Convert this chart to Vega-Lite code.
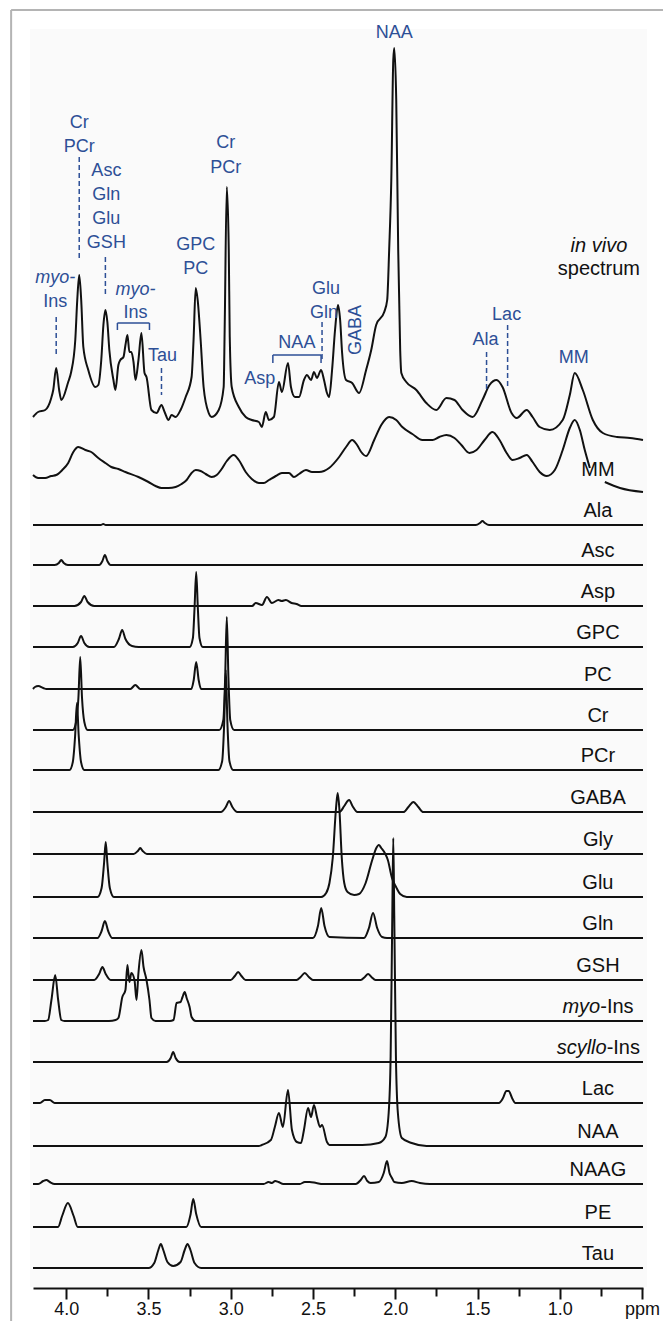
{
"$schema":"https://vega.github.io/schema/vega-lite/v6.json",
"width":610,"height":1288,
"autosize":{"type":"none"},
"padding":{"left":33,"right":20,"top":0,"bottom":33},
"background":"white",
"config":{"view":{"stroke":null},"axis":{"grid":false,"domainColor":"#111","domainWidth":2,"tickColor":"#111","tickWidth":2,"labelFont":"Liberation Sans","labelFontSize":18,"labelColor":"#111","zindex":1}},
"datasets":{
"spec":[
{"s":"vivo","p":4.202,"y":871},{"s":"vivo","p":4.171,"y":876},{"s":"vivo","p":4.128,"y":878},{"s":"vivo","p":4.091,"y":890},{"s":"vivo","p":4.079,"y":898},{"s":"vivo","p":4.061,"y":920},{"s":"vivo","p":4.043,"y":898},{"s":"vivo","p":4.030,"y":888},{"s":"vivo","p":3.988,"y":906},{"s":"vivo","p":3.970,"y":916},{"s":"vivo","p":3.945,"y":948},{"s":"vivo","p":3.933,"y":988},{"s":"vivo","p":3.921,"y":1013},{"s":"vivo","p":3.909,"y":988},{"s":"vivo","p":3.896,"y":941},{"s":"vivo","p":3.866,"y":918},{"s":"vivo","p":3.823,"y":901},{"s":"vivo","p":3.805,"y":903},{"s":"vivo","p":3.787,"y":928},{"s":"vivo","p":3.774,"y":963},{"s":"vivo","p":3.762,"y":978},{"s":"vivo","p":3.750,"y":966},{"s":"vivo","p":3.738,"y":938},{"s":"vivo","p":3.713,"y":908},{"s":"vivo","p":3.701,"y":898},{"s":"vivo","p":3.683,"y":923},{"s":"vivo","p":3.671,"y":928},{"s":"vivo","p":3.652,"y":931},{"s":"vivo","p":3.640,"y":943},{"s":"vivo","p":3.628,"y":953},{"s":"vivo","p":3.616,"y":936},{"s":"vivo","p":3.604,"y":936},{"s":"vivo","p":3.591,"y":926},{"s":"vivo","p":3.579,"y":908},{"s":"vivo","p":3.561,"y":928},{"s":"vivo","p":3.543,"y":955},{"s":"vivo","p":3.524,"y":915},{"s":"vivo","p":3.512,"y":911},{"s":"vivo","p":3.482,"y":878},{"s":"vivo","p":3.451,"y":875},{"s":"vivo","p":3.421,"y":883},{"s":"vivo","p":3.402,"y":876},{"s":"vivo","p":3.378,"y":868},{"s":"vivo","p":3.360,"y":873},{"s":"vivo","p":3.335,"y":871},{"s":"vivo","p":3.305,"y":878},{"s":"vivo","p":3.274,"y":891},{"s":"vivo","p":3.238,"y":911},{"s":"vivo","p":3.226,"y":948},{"s":"vivo","p":3.213,"y":1000},{"s":"vivo","p":3.201,"y":988},{"s":"vivo","p":3.183,"y":948},{"s":"vivo","p":3.165,"y":901},{"s":"vivo","p":3.134,"y":875},{"s":"vivo","p":3.116,"y":871},{"s":"vivo","p":3.073,"y":878},{"s":"vivo","p":3.043,"y":901},{"s":"vivo","p":3.037,"y":958},{"s":"vivo","p":3.024,"y":1101},{"s":"vivo","p":3.012,"y":1038},{"s":"vivo","p":3.006,"y":951},{"s":"vivo","p":2.994,"y":901},{"s":"vivo","p":2.951,"y":881},{"s":"vivo","p":2.909,"y":871},{"s":"vivo","p":2.872,"y":868},{"s":"vivo","p":2.829,"y":866},{"s":"vivo","p":2.811,"y":861},{"s":"vivo","p":2.787,"y":876},{"s":"vivo","p":2.768,"y":868},{"s":"vivo","p":2.738,"y":871},{"s":"vivo","p":2.707,"y":906},{"s":"vivo","p":2.689,"y":896},{"s":"vivo","p":2.652,"y":925},{"s":"vivo","p":2.634,"y":901},{"s":"vivo","p":2.610,"y":891},{"s":"vivo","p":2.585,"y":891},{"s":"vivo","p":2.555,"y":908},{"s":"vivo","p":2.537,"y":913},{"s":"vivo","p":2.512,"y":908},{"s":"vivo","p":2.494,"y":916},{"s":"vivo","p":2.476,"y":910},{"s":"vivo","p":2.451,"y":918},{"s":"vivo","p":2.433,"y":908},{"s":"vivo","p":2.415,"y":895},{"s":"vivo","p":2.402,"y":891},{"s":"vivo","p":2.384,"y":918},{"s":"vivo","p":2.366,"y":958},{"s":"vivo","p":2.348,"y":983},{"s":"vivo","p":2.335,"y":968},{"s":"vivo","p":2.323,"y":935},{"s":"vivo","p":2.299,"y":908},{"s":"vivo","p":2.262,"y":905},{"s":"vivo","p":2.220,"y":895},{"s":"vivo","p":2.177,"y":918},{"s":"vivo","p":2.146,"y":938},{"s":"vivo","p":2.116,"y":963},{"s":"vivo","p":2.067,"y":976},{"s":"vivo","p":2.049,"y":988},{"s":"vivo","p":2.037,"y":1038},{"s":"vivo","p":2.024,"y":1108},{"s":"vivo","p":2.012,"y":1228},{"s":"vivo","p":2.006,"y":1240},{"s":"vivo","p":1.994,"y":1188},{"s":"vivo","p":1.982,"y":1038},{"s":"vivo","p":1.970,"y":938},{"s":"vivo","p":1.963,"y":915},{"s":"vivo","p":1.933,"y":906},{"s":"vivo","p":1.872,"y":898},{"s":"vivo","p":1.811,"y":885},{"s":"vivo","p":1.750,"y":878},{"s":"vivo","p":1.689,"y":890},{"s":"vivo","p":1.640,"y":888},{"s":"vivo","p":1.591,"y":878},{"s":"vivo","p":1.530,"y":871},{"s":"vivo","p":1.470,"y":888},{"s":"vivo","p":1.427,"y":903},{"s":"vivo","p":1.384,"y":908},{"s":"vivo","p":1.348,"y":901},{"s":"vivo","p":1.293,"y":875},{"s":"vivo","p":1.262,"y":870},{"s":"vivo","p":1.201,"y":878},{"s":"vivo","p":1.165,"y":871},{"s":"vivo","p":1.122,"y":861},{"s":"vivo","p":1.061,"y":858},{"s":"vivo","p":0.982,"y":868},{"s":"vivo","p":0.939,"y":893},{"s":"vivo","p":0.909,"y":915},{"s":"vivo","p":0.860,"y":898},{"s":"vivo","p":0.799,"y":868},{"s":"vivo","p":0.738,"y":855},{"s":"vivo","p":0.652,"y":851},{"s":"vivo","p":0.573,"y":850},{"s":"vivo","p":0.494,"y":848},
{"s":"MM","p":4.202,"y":813},{"s":"MM","p":4.171,"y":810},{"s":"MM","p":4.128,"y":810},{"s":"MM","p":4.091,"y":812},{"s":"MM","p":4.061,"y":813},{"s":"MM","p":4.024,"y":818},{"s":"MM","p":3.988,"y":825},{"s":"MM","p":3.957,"y":836},{"s":"MM","p":3.927,"y":841},{"s":"MM","p":3.884,"y":838},{"s":"MM","p":3.848,"y":836},{"s":"MM","p":3.805,"y":830},{"s":"MM","p":3.762,"y":825},{"s":"MM","p":3.726,"y":821},{"s":"MM","p":3.683,"y":819},{"s":"MM","p":3.640,"y":816},{"s":"MM","p":3.561,"y":811},{"s":"MM","p":3.500,"y":806},{"s":"MM","p":3.457,"y":802},{"s":"MM","p":3.421,"y":800},{"s":"MM","p":3.378,"y":800},{"s":"MM","p":3.335,"y":801},{"s":"MM","p":3.299,"y":804},{"s":"MM","p":3.268,"y":808},{"s":"MM","p":3.238,"y":815},{"s":"MM","p":3.213,"y":818},{"s":"MM","p":3.183,"y":817},{"s":"MM","p":3.152,"y":814},{"s":"MM","p":3.116,"y":811},{"s":"MM","p":3.085,"y":813},{"s":"MM","p":3.055,"y":819},{"s":"MM","p":3.024,"y":827},{"s":"MM","p":2.982,"y":833},{"s":"MM","p":2.951,"y":828},{"s":"MM","p":2.909,"y":816},{"s":"MM","p":2.872,"y":809},{"s":"MM","p":2.829,"y":805},{"s":"MM","p":2.799,"y":805},{"s":"MM","p":2.768,"y":808},{"s":"MM","p":2.726,"y":812},{"s":"MM","p":2.689,"y":815},{"s":"MM","p":2.646,"y":815},{"s":"MM","p":2.616,"y":811},{"s":"MM","p":2.585,"y":814},{"s":"MM","p":2.543,"y":818},{"s":"MM","p":2.506,"y":816},{"s":"MM","p":2.463,"y":816},{"s":"MM","p":2.433,"y":817},{"s":"MM","p":2.402,"y":820},{"s":"MM","p":2.341,"y":831},{"s":"MM","p":2.299,"y":841},{"s":"MM","p":2.262,"y":848},{"s":"MM","p":2.232,"y":843},{"s":"MM","p":2.207,"y":836},{"s":"MM","p":2.177,"y":832},{"s":"MM","p":2.128,"y":848},{"s":"MM","p":2.085,"y":863},{"s":"MM","p":2.037,"y":871},{"s":"MM","p":1.994,"y":868},{"s":"MM","p":1.957,"y":861},{"s":"MM","p":1.896,"y":854},{"s":"MM","p":1.835,"y":848},{"s":"MM","p":1.774,"y":848},{"s":"MM","p":1.732,"y":851},{"s":"MM","p":1.689,"y":853},{"s":"MM","p":1.640,"y":850},{"s":"MM","p":1.598,"y":843},{"s":"MM","p":1.549,"y":835},{"s":"MM","p":1.506,"y":838},{"s":"MM","p":1.457,"y":848},{"s":"MM","p":1.409,"y":856},{"s":"MM","p":1.366,"y":848},{"s":"MM","p":1.323,"y":835},{"s":"MM","p":1.287,"y":828},{"s":"MM","p":1.244,"y":830},{"s":"MM","p":1.201,"y":833},{"s":"MM","p":1.165,"y":826},{"s":"MM","p":1.122,"y":816},{"s":"MM","p":1.079,"y":812},{"s":"MM","p":1.030,"y":818},{"s":"MM","p":0.982,"y":838},{"s":"MM","p":0.939,"y":860},{"s":"MM","p":0.909,"y":868},{"s":"MM","p":0.878,"y":858},{"s":"MM","p":0.848,"y":838},{"s":"MM","p":0.817,"y":820},{"s":"MM","p":0.790,"y":null},{"s":"MM","p":0.726,"y":806},{"s":"MM","p":0.634,"y":800},{"s":"MM","p":0.494,"y":796},
{"s":"Ala","p":4.202,"y":763},{"s":"Ala","p":3.79,"y":763},{"s":"Ala","p":3.775,"y":764},{"s":"Ala","p":3.76,"y":763},{"s":"Ala","p":1.51,"y":763},{"s":"Ala","p":1.485,"y":765},{"s":"Ala","p":1.47,"y":767},{"s":"Ala","p":1.455,"y":765},{"s":"Ala","p":1.43,"y":763},{"s":"Ala","p":0.494,"y":763},
{"s":"Asc","p":4.202,"y":723},{"s":"Asc","p":4.07,"y":723},{"s":"Asc","p":4.045,"y":725},{"s":"Asc","p":4.03,"y":728},{"s":"Asc","p":4.015,"y":725},{"s":"Asc","p":3.99,"y":723},{"s":"Asc","p":3.80,"y":723},{"s":"Asc","p":3.78,"y":727},{"s":"Asc","p":3.765,"y":733},{"s":"Asc","p":3.75,"y":727},{"s":"Asc","p":3.73,"y":723},{"s":"Asc","p":0.494,"y":723},
{"s":"Asp","p":4.202,"y":682},{"s":"Asp","p":3.95,"y":682},{"s":"Asp","p":3.91,"y":686},{"s":"Asp","p":3.89,"y":692},{"s":"Asp","p":3.87,"y":686},{"s":"Asp","p":3.83,"y":682},{"s":"Asp","p":2.87,"y":682},{"s":"Asp","p":2.848,"y":685},{"s":"Asp","p":2.81,"y":683},{"s":"Asp","p":2.78,"y":691},{"s":"Asp","p":2.75,"y":685},{"s":"Asp","p":2.71,"y":688},{"s":"Asp","p":2.69,"y":687},{"s":"Asp","p":2.665,"y":688},{"s":"Asp","p":2.63,"y":685},{"s":"Asp","p":2.60,"y":684},{"s":"Asp","p":2.57,"y":682},{"s":"Asp","p":0.494,"y":682},
{"s":"GPC","p":4.202,"y":641},{"s":"GPC","p":3.96,"y":641},{"s":"GPC","p":3.93,"y":645},{"s":"GPC","p":3.91,"y":652},{"s":"GPC","p":3.89,"y":645},{"s":"GPC","p":3.86,"y":641},{"s":"GPC","p":3.71,"y":641},{"s":"GPC","p":3.68,"y":649},{"s":"GPC","p":3.66,"y":658},{"s":"GPC","p":3.64,"y":649},{"s":"GPC","p":3.60,"y":642},{"s":"GPC","p":3.56,"y":641},{"s":"GPC","p":3.25,"y":641},{"s":"GPC","p":3.23,"y":650},{"s":"GPC","p":3.22,"y":680},{"s":"GPC","p":3.21,"y":716},{"s":"GPC","p":3.20,"y":680},{"s":"GPC","p":3.19,"y":650},{"s":"GPC","p":3.17,"y":641},{"s":"GPC","p":0.494,"y":641},
{"s":"PC","p":4.202,"y":599},{"s":"PC","p":4.19,"y":601},{"s":"PC","p":4.17,"y":602},{"s":"PC","p":4.14,"y":600},{"s":"PC","p":4.12,"y":599},{"s":"PC","p":3.61,"y":599},{"s":"PC","p":3.58,"y":603},{"s":"PC","p":3.55,"y":599},{"s":"PC","p":3.24,"y":599},{"s":"PC","p":3.225,"y":608},{"s":"PC","p":3.21,"y":626},{"s":"PC","p":3.195,"y":608},{"s":"PC","p":3.18,"y":599},{"s":"PC","p":0.494,"y":599},
{"s":"Cr","p":4.202,"y":558},{"s":"Cr","p":3.96,"y":558},{"s":"Cr","p":3.94,"y":566},{"s":"Cr","p":3.926,"y":590},{"s":"Cr","p":3.915,"y":631},{"s":"Cr","p":3.904,"y":590},{"s":"Cr","p":3.89,"y":566},{"s":"Cr","p":3.87,"y":558},{"s":"Cr","p":3.07,"y":558},{"s":"Cr","p":3.045,"y":568},{"s":"Cr","p":3.034,"y":610},{"s":"Cr","p":3.024,"y":671},{"s":"Cr","p":3.014,"y":610},{"s":"Cr","p":3.003,"y":568},{"s":"Cr","p":2.98,"y":558},{"s":"Cr","p":0.494,"y":558},
{"s":"PCr","p":4.202,"y":518},{"s":"PCr","p":3.98,"y":518},{"s":"PCr","p":3.96,"y":526},{"s":"PCr","p":3.946,"y":552},{"s":"PCr","p":3.935,"y":585},{"s":"PCr","p":3.924,"y":552},{"s":"PCr","p":3.91,"y":526},{"s":"PCr","p":3.89,"y":518},{"s":"PCr","p":3.075,"y":518},{"s":"PCr","p":3.052,"y":527},{"s":"PCr","p":3.04,"y":564},{"s":"PCr","p":3.03,"y":618},{"s":"PCr","p":3.02,"y":564},{"s":"PCr","p":3.008,"y":527},{"s":"PCr","p":2.985,"y":518},{"s":"PCr","p":0.494,"y":518},
{"s":"GABA","p":4.202,"y":476},{"s":"GABA","p":3.06,"y":476},{"s":"GABA","p":3.03,"y":481},{"s":"GABA","p":3.01,"y":487},{"s":"GABA","p":2.99,"y":481},{"s":"GABA","p":2.96,"y":476},{"s":"GABA","p":2.34,"y":476},{"s":"GABA","p":2.31,"y":482},{"s":"GABA","p":2.29,"y":487},{"s":"GABA","p":2.28,"y":488},{"s":"GABA","p":2.26,"y":482},{"s":"GABA","p":2.23,"y":476},{"s":"GABA","p":1.95,"y":476},{"s":"GABA","p":1.92,"y":481},{"s":"GABA","p":1.89,"y":486},{"s":"GABA","p":1.86,"y":481},{"s":"GABA","p":1.83,"y":476},{"s":"GABA","p":0.494,"y":476},
{"s":"Gly","p":4.202,"y":434},{"s":"Gly","p":3.59,"y":434},{"s":"Gly","p":3.565,"y":437},{"s":"Gly","p":3.55,"y":440},{"s":"Gly","p":3.535,"y":437},{"s":"Gly","p":3.51,"y":434},{"s":"Gly","p":0.494,"y":434},
{"s":"Glu","p":4.202,"y":391},{"s":"Glu","p":3.81,"y":391},{"s":"Glu","p":3.785,"y":400},{"s":"Glu","p":3.77,"y":425},{"s":"Glu","p":3.76,"y":446},{"s":"Glu","p":3.75,"y":425},{"s":"Glu","p":3.735,"y":400},{"s":"Glu","p":3.71,"y":391},{"s":"Glu","p":2.45,"y":391},{"s":"Glu","p":2.42,"y":395},{"s":"Glu","p":2.40,"y":405},{"s":"Glu","p":2.38,"y":430},{"s":"Glu","p":2.36,"y":480},{"s":"Glu","p":2.35,"y":495},{"s":"Glu","p":2.34,"y":480},{"s":"Glu","p":2.325,"y":430},{"s":"Glu","p":2.31,"y":405},{"s":"Glu","p":2.29,"y":396},{"s":"Glu","p":2.25,"y":393},{"s":"Glu","p":2.22,"y":394},{"s":"Glu","p":2.18,"y":405},{"s":"Glu","p":2.14,"y":428},{"s":"Glu","p":2.115,"y":440},{"s":"Glu","p":2.10,"y":443},{"s":"Glu","p":2.085,"y":440},{"s":"Glu","p":2.06,"y":434},{"s":"Glu","p":2.045,"y":428},{"s":"Glu","p":2.02,"y":410},{"s":"Glu","p":1.995,"y":401},{"s":"Glu","p":1.97,"y":394},{"s":"Glu","p":1.93,"y":391},{"s":"Glu","p":0.494,"y":391},
{"s":"Gln","p":4.202,"y":350},{"s":"Gln","p":3.81,"y":350},{"s":"Gln","p":3.785,"y":357},{"s":"Gln","p":3.765,"y":367},{"s":"Gln","p":3.745,"y":357},{"s":"Gln","p":3.72,"y":350},{"s":"Gln","p":2.50,"y":350},{"s":"Gln","p":2.47,"y":362},{"s":"Gln","p":2.45,"y":380},{"s":"Gln","p":2.43,"y":362},{"s":"Gln","p":2.40,"y":351},{"s":"Gln","p":2.19,"y":350},{"s":"Gln","p":2.16,"y":360},{"s":"Gln","p":2.135,"y":375},{"s":"Gln","p":2.11,"y":360},{"s":"Gln","p":2.08,"y":351},{"s":"Gln","p":2.05,"y":350},{"s":"Gln","p":0.494,"y":350},
{"s":"GSH","p":4.202,"y":308},{"s":"GSH","p":3.83,"y":308},{"s":"GSH","p":3.80,"y":314},{"s":"GSH","p":3.78,"y":321},{"s":"GSH","p":3.76,"y":314},{"s":"GSH","p":3.73,"y":308},{"s":"GSH","p":3.00,"y":308},{"s":"GSH","p":2.975,"y":312},{"s":"GSH","p":2.955,"y":316},{"s":"GSH","p":2.935,"y":312},{"s":"GSH","p":2.91,"y":308},{"s":"GSH","p":2.60,"y":308},{"s":"GSH","p":2.575,"y":311},{"s":"GSH","p":2.55,"y":315},{"s":"GSH","p":2.525,"y":311},{"s":"GSH","p":2.50,"y":308},{"s":"GSH","p":2.21,"y":308},{"s":"GSH","p":2.185,"y":311},{"s":"GSH","p":2.165,"y":314},{"s":"GSH","p":2.145,"y":311},{"s":"GSH","p":2.12,"y":308},{"s":"GSH","p":0.494,"y":308},
{"s":"myo","p":4.202,"y":267},{"s":"myo","p":4.13,"y":267},{"s":"myo","p":4.11,"y":268},{"s":"myo","p":4.09,"y":288},{"s":"myo","p":4.067,"y":313},{"s":"myo","p":4.049,"y":288},{"s":"myo","p":4.03,"y":268},{"s":"myo","p":4.01,"y":267},{"s":"myo","p":3.74,"y":267},{"s":"myo","p":3.70,"y":268},{"s":"myo","p":3.683,"y":270},{"s":"myo","p":3.659,"y":291},{"s":"myo","p":3.640,"y":298},{"s":"myo","p":3.628,"y":323},{"s":"myo","p":3.616,"y":306},{"s":"myo","p":3.604,"y":315},{"s":"myo","p":3.585,"y":308},{"s":"myo","p":3.573,"y":288},{"s":"myo","p":3.561,"y":315},{"s":"myo","p":3.543,"y":338},{"s":"myo","p":3.530,"y":321},{"s":"myo","p":3.512,"y":308},{"s":"myo","p":3.494,"y":288},{"s":"myo","p":3.482,"y":270},{"s":"myo","p":3.457,"y":267},{"s":"myo","p":3.37,"y":267},{"s":"myo","p":3.348,"y":268},{"s":"myo","p":3.329,"y":285},{"s":"myo","p":3.305,"y":286},{"s":"myo","p":3.293,"y":291},{"s":"myo","p":3.28,"y":296},{"s":"myo","p":3.268,"y":290},{"s":"myo","p":3.25,"y":281},{"s":"myo","p":3.238,"y":271},{"s":"myo","p":3.213,"y":267},{"s":"myo","p":0.494,"y":267},
{"s":"scyllo","p":4.202,"y":226},{"s":"scyllo","p":3.39,"y":226},{"s":"scyllo","p":3.365,"y":230},{"s":"scyllo","p":3.35,"y":236},{"s":"scyllo","p":3.335,"y":230},{"s":"scyllo","p":3.31,"y":226},{"s":"scyllo","p":0.494,"y":226},
{"s":"Lac","p":4.202,"y":185},{"s":"Lac","p":4.16,"y":185},{"s":"Lac","p":4.13,"y":188},{"s":"Lac","p":4.10,"y":188},{"s":"Lac","p":4.07,"y":185},{"s":"Lac","p":1.37,"y":185},{"s":"Lac","p":1.345,"y":190},{"s":"Lac","p":1.325,"y":197},{"s":"Lac","p":1.31,"y":197},{"s":"Lac","p":1.29,"y":190},{"s":"Lac","p":1.27,"y":185},{"s":"Lac","p":0.494,"y":185},
{"s":"NAA","p":4.202,"y":142},{"s":"NAA","p":2.83,"y":142},{"s":"NAA","p":2.811,"y":143},{"s":"NAA","p":2.756,"y":148},{"s":"NAA","p":2.732,"y":161},{"s":"NAA","p":2.707,"y":175},{"s":"NAA","p":2.683,"y":161},{"s":"NAA","p":2.652,"y":198},{"s":"NAA","p":2.628,"y":158},{"s":"NAA","p":2.598,"y":146},{"s":"NAA","p":2.573,"y":145},{"s":"NAA","p":2.555,"y":158},{"s":"NAA","p":2.530,"y":180},{"s":"NAA","p":2.512,"y":171},{"s":"NAA","p":2.494,"y":183},{"s":"NAA","p":2.476,"y":171},{"s":"NAA","p":2.457,"y":161},{"s":"NAA","p":2.445,"y":163},{"s":"NAA","p":2.415,"y":146},{"s":"NAA","p":2.40,"y":143},{"s":"NAA","p":2.20,"y":143},{"s":"NAA","p":2.10,"y":145},{"s":"NAA","p":2.06,"y":151},{"s":"NAA","p":2.04,"y":175},{"s":"NAA","p":2.028,"y":232},{"s":"NAA","p":2.018,"y":372},{"s":"NAA","p":2.012,"y":450},{"s":"NAA","p":2.006,"y":372},{"s":"NAA","p":1.996,"y":232},{"s":"NAA","p":1.984,"y":175},{"s":"NAA","p":1.96,"y":150},{"s":"NAA","p":1.90,"y":145},{"s":"NAA","p":1.81,"y":142},{"s":"NAA","p":0.494,"y":142},
{"s":"NAAG","p":4.202,"y":104},{"s":"NAAG","p":4.17,"y":104},{"s":"NAAG","p":4.14,"y":107},{"s":"NAAG","p":4.12,"y":108},{"s":"NAAG","p":4.10,"y":106},{"s":"NAAG","p":4.07,"y":104},{"s":"NAAG","p":2.80,"y":104},{"s":"NAAG","p":2.77,"y":106},{"s":"NAAG","p":2.75,"y":105},{"s":"NAAG","p":2.73,"y":107},{"s":"NAAG","p":2.71,"y":106},{"s":"NAAG","p":2.68,"y":104},{"s":"NAAG","p":2.58,"y":104},{"s":"NAAG","p":2.55,"y":106},{"s":"NAAG","p":2.52,"y":106},{"s":"NAAG","p":2.48,"y":105},{"s":"NAAG","p":2.44,"y":104},{"s":"NAAG","p":2.24,"y":104},{"s":"NAAG","p":2.21,"y":108},{"s":"NAAG","p":2.19,"y":112},{"s":"NAAG","p":2.17,"y":107},{"s":"NAAG","p":2.15,"y":105},{"s":"NAAG","p":2.10,"y":106},{"s":"NAAG","p":2.07,"y":115},{"s":"NAAG","p":2.05,"y":127},{"s":"NAAG","p":2.035,"y":115},{"s":"NAAG","p":2.02,"y":110},{"s":"NAAG","p":2.006,"y":106},{"s":"NAAG","p":1.96,"y":105},{"s":"NAAG","p":1.90,"y":107},{"s":"NAAG","p":1.85,"y":105},{"s":"NAAG","p":1.79,"y":104},{"s":"NAAG","p":0.494,"y":104},
{"s":"PE","p":4.202,"y":61},{"s":"PE","p":4.05,"y":61},{"s":"PE","p":4.025,"y":72},{"s":"PE","p":3.99,"y":85},{"s":"PE","p":3.955,"y":72},{"s":"PE","p":3.93,"y":61},{"s":"PE","p":3.27,"y":61},{"s":"PE","p":3.245,"y":73},{"s":"PE","p":3.228,"y":89},{"s":"PE","p":3.21,"y":74},{"s":"PE","p":3.18,"y":61},{"s":"PE","p":0.494,"y":61},
{"s":"Tau","p":4.202,"y":20},{"s":"Tau","p":3.50,"y":20},{"s":"Tau","p":3.465,"y":25},{"s":"Tau","p":3.44,"y":38},{"s":"Tau","p":3.425,"y":44},{"s":"Tau","p":3.41,"y":38},{"s":"Tau","p":3.385,"y":26},{"s":"Tau","p":3.35,"y":22},{"s":"Tau","p":3.305,"y":26},{"s":"Tau","p":3.28,"y":38},{"s":"Tau","p":3.263,"y":44},{"s":"Tau","p":3.245,"y":38},{"s":"Tau","p":3.22,"y":25},{"s":"Tau","p":3.18,"y":20},{"s":"Tau","p":0.494,"y":20}
],
"labels":[
{"t":"MM","p":0.768,"y":812,"g":"r"},{"t":"Ala","p":0.768,"y":771,"g":"r"},{"t":"Asc","p":0.768,"y":731,"g":"r"},{"t":"Asp","p":0.768,"y":690,"g":"r"},{"t":"GPC","p":0.768,"y":649,"g":"r"},{"t":"PC","p":0.768,"y":607,"g":"r"},{"t":"Cr","p":0.768,"y":566,"g":"r"},{"t":"PCr","p":0.768,"y":526,"g":"r"},{"t":"GABA","p":0.768,"y":484,"g":"r"},{"t":"Gly","p":0.768,"y":442,"g":"r"},{"t":"Glu","p":0.768,"y":399,"g":"r"},{"t":"Gln","p":0.768,"y":358,"g":"r"},{"t":"GSH","p":0.768,"y":316,"g":"r"},
{"t":"myo","p":0.754,"y":275,"g":"ir"},{"t":"-Ins","p":0.754,"y":275,"g":"l"},{"t":"scyllo","p":0.715,"y":234,"g":"ir"},{"t":"-Ins","p":0.715,"y":234,"g":"l"},
{"t":"Lac","p":0.768,"y":193,"g":"r"},{"t":"NAA","p":0.768,"y":150,"g":"r"},{"t":"NAAG","p":0.768,"y":112,"g":"r"},{"t":"PE","p":0.768,"y":69,"g":"r"},{"t":"Tau","p":0.768,"y":28,"g":"r"},
{"t":"in vivo","p":0.762,"y":1036,"g":"ic"},{"t":"spectrum","p":0.762,"y":1013,"g":"r"},
{"t":"NAA","p":2.006,"y":1250,"g":"b"},{"t":"Cr","p":3.921,"y":1160,"g":"b"},{"t":"PCr","p":3.921,"y":1136,"g":"b"},{"t":"Asc","p":3.756,"y":1112,"g":"b"},{"t":"Gln","p":3.756,"y":1088,"g":"b"},{"t":"Glu","p":3.756,"y":1064,"g":"b"},{"t":"GSH","p":3.756,"y":1040,"g":"b"},
{"t":"myo-","p":4.067,"y":1005,"g":"bi"},{"t":"Ins","p":4.067,"y":981,"g":"b"},{"t":"myo-","p":3.579,"y":993,"g":"bi"},{"t":"Ins","p":3.579,"y":970,"g":"b"},
{"t":"GPC","p":3.213,"y":1038,"g":"b"},{"t":"PC","p":3.213,"y":1014,"g":"b"},{"t":"Cr","p":3.030,"y":1140,"g":"b"},{"t":"PCr","p":3.030,"y":1115,"g":"b"},
{"t":"Tau","p":3.415,"y":927,"g":"b"},{"t":"Asp","p":2.823,"y":904,"g":"b"},{"t":"NAA","p":2.598,"y":940,"g":"b"},{"t":"Glu","p":2.421,"y":994,"g":"b"},{"t":"Gln","p":2.433,"y":970,"g":"b"},
{"t":"GABA","p":2.238,"y":958,"g":"bv"},{"t":"Ala","p":1.451,"y":943,"g":"b"},{"t":"Lac","p":1.323,"y":968,"g":"b"},{"t":"MM","p":0.915,"y":925,"g":"b"}
],
"rules":[
{"p":3.921,"p2":3.921,"y":1131,"y2":1028,"k":"d"},{"p":3.762,"p2":3.762,"y":1031,"y2":993,"k":"d"},{"p":4.061,"p2":4.061,"y":971,"y2":933,"k":"d"},{"p":3.421,"p2":3.421,"y":920,"y2":893,"k":"d"},{"p":2.445,"p2":2.445,"y":966,"y2":928,"k":"d"},{"p":1.445,"p2":1.445,"y":936,"y2":898,"k":"d"},{"p":1.317,"p2":1.317,"y":963,"y2":901,"k":"d"},
{"p":3.689,"p2":3.494,"y":965,"y2":965,"k":"s"},{"p":3.689,"p2":3.689,"y":965,"y2":958,"k":"s"},{"p":3.494,"p2":3.494,"y":965,"y2":958,"k":"s"},
{"p":2.744,"p2":2.451,"y":933,"y2":933,"k":"s"},{"p":2.744,"p2":2.744,"y":933,"y2":925,"k":"s"},{"p":2.451,"p2":2.451,"y":933,"y2":925,"k":"s"}
],
"frame":[
{"p":4.335,"p2":4.335,"y":1278,"y2":-40},{"p":4.335,"p2":0.3,"y":1278,"y2":1278}
]
},
"layer":[
{"data":{"values":[{}]},
 "mark":{"type":"rect","clip":false,"fill":"#fafafa","stroke":null},
 "encoding":{"x":{"datum":4.22,"type":"quantitative","scale":{"domain":[0.494,4.202],"reverse":true,"nice":false,"zero":false},"axis":{"values":[3.75,3.25,2.75,2.25,1.75,1.25,0.75],"labels":false,"domain":false,"tickSize":8,"title":null,"orient":"bottom","zindex":2}},
  "x2":{"datum":0.469},
  "y":{"datum":1259,"type":"quantitative","scale":{"domain":[0,1288],"nice":false,"zero":false},"axis":null},
  "y2":{"datum":1}}},
{"layer":[
 {"data":{"name":"frame"},
  "mark":{"type":"rule","clip":false,"color":"#b4b4b4","strokeWidth":2},
  "encoding":{"x":{"field":"p","type":"quantitative"},"x2":{"field":"p2"},"y":{"field":"y","type":"quantitative"},"y2":{"field":"y2"}}},
 {"data":{"name":"spec"},
  "mark":{"type":"line","interpolate":"monotone","color":"#111","strokeWidth":2},
  "encoding":{"x":{"field":"p","type":"quantitative"},"y":{"field":"y","type":"quantitative"},"detail":{"field":"s"}}},
 {"data":{"name":"rules"},"transform":[{"filter":"datum.k=='d'"}],
  "mark":{"type":"rule","color":"#2d4f96","strokeWidth":1.5,"strokeDash":[5,3]},
  "encoding":{"x":{"field":"p","type":"quantitative"},"x2":{"field":"p2"},"y":{"field":"y","type":"quantitative"},"y2":{"field":"y2"}}},
 {"data":{"name":"rules"},"transform":[{"filter":"datum.k=='s'"}],
  "mark":{"type":"rule","color":"#2d4f96","strokeWidth":1.5},
  "encoding":{"x":{"field":"p","type":"quantitative"},"x2":{"field":"p2"},"y":{"field":"y","type":"quantitative"},"y2":{"field":"y2"}}},
 {"data":{"name":"labels"},"transform":[{"filter":"datum.g=='r'"}],
  "mark":{"type":"text","font":"Liberation Sans","fontSize":20,"align":"center","baseline":"alphabetic","color":"#111"},
  "encoding":{"x":{"field":"p","type":"quantitative"},"y":{"field":"y","type":"quantitative"},"text":{"field":"t"}}},
 {"data":{"name":"labels"},"transform":[{"filter":"datum.g=='ic'"}],
  "mark":{"type":"text","font":"Liberation Sans","fontSize":20,"fontStyle":"italic","align":"center","baseline":"alphabetic","color":"#111"},
  "encoding":{"x":{"field":"p","type":"quantitative"},"y":{"field":"y","type":"quantitative"},"text":{"field":"t"}}},
 {"data":{"name":"labels"},"transform":[{"filter":"datum.g=='ir'"}],
  "mark":{"type":"text","font":"Liberation Sans","fontSize":20,"fontStyle":"italic","align":"right","baseline":"alphabetic","color":"#111"},
  "encoding":{"x":{"field":"p","type":"quantitative"},"y":{"field":"y","type":"quantitative"},"text":{"field":"t"}}},
 {"data":{"name":"labels"},"transform":[{"filter":"datum.g=='l'"}],
  "mark":{"type":"text","font":"Liberation Sans","fontSize":20,"align":"left","baseline":"alphabetic","color":"#111"},
  "encoding":{"x":{"field":"p","type":"quantitative"},"y":{"field":"y","type":"quantitative"},"text":{"field":"t"}}},
 {"data":{"name":"labels"},"transform":[{"filter":"datum.g=='b'"}],
  "mark":{"type":"text","font":"Liberation Sans","fontSize":18,"align":"center","baseline":"alphabetic","color":"#2d4f96"},
  "encoding":{"x":{"field":"p","type":"quantitative"},"y":{"field":"y","type":"quantitative"},"text":{"field":"t"}}},
 {"data":{"name":"labels"},"transform":[{"filter":"datum.g=='bi'"}],
  "mark":{"type":"text","font":"Liberation Sans","fontSize":18,"fontStyle":"italic","align":"center","baseline":"alphabetic","color":"#2d4f96"},
  "encoding":{"x":{"field":"p","type":"quantitative"},"y":{"field":"y","type":"quantitative"},"text":{"field":"t"}}},
 {"data":{"name":"labels"},"transform":[{"filter":"datum.g=='bv'"}],
  "mark":{"type":"text","font":"Liberation Sans","fontSize":18,"angle":270,"align":"center","baseline":"middle","color":"#2d4f96"},
  "encoding":{"x":{"field":"p","type":"quantitative"},"y":{"field":"y","type":"quantitative"},"text":{"field":"t"}}}
 ],
 "encoding":{"x":{"field":"p","type":"quantitative","axis":{"values":[4,3.5,3,2.5,2,1.5,1,0.5],"tickSize":11,"title":null,"orient":"bottom","labelPadding":1,"labelOverlap":false,"labelFlush":false,"zindex":2,"labelExpr":"datum.value < 0.6 ? 'ppm' : format(datum.value, '.1f')"}},"y":{"field":"y","type":"quantitative","axis":null}}
}
],
"resolve":{"axis":{"x":"independent"}}
}
